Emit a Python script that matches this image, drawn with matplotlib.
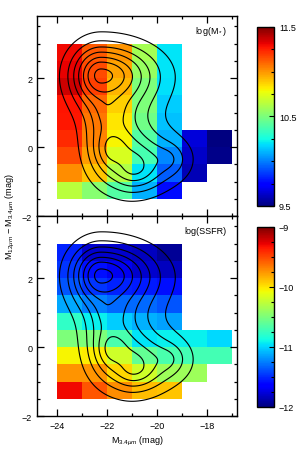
#!/usr/bin/env python3
"""
plot.py: W1 vs W3-W1 colour-magnitude grid, coloured by log(M*) and log(SSFR),
with galaxy density contours on top.
"""

import numpy as np
import matplotlib
matplotlib.use("Agg")
import matplotlib.pyplot as plt
from matplotlib.ticker import MultipleLocator

plt.rcParams['font.family'] = ['Liberation Sans', 'DejaVu Sans']
plt.rcParams['mathtext.fontset'] = 'custom'
plt.rcParams['mathtext.rm'] = 'Liberation Sans'
plt.rcParams['mathtext.it'] = 'Liberation Sans:italic'

# bin edges (M_3.4um and M_12um - M_3.4um)
x_edges = [-24, -23, -22, -21, -20, -19, -18, -17]
y_edges = [-1.5, -1.0, -0.5, 0.0, 0.5, 1.0, 1.5, 2.0, 2.5, 3.0]

nan = np.nan
# median log(M*) per bin, rows listed from top (2.5..3) to bottom (-1.5..-1)
logmstar = [
    [11.30, 11.13, 11.00, 10.60, 10.20, nan, nan],
    [11.32, 11.16, 10.97, 10.57, 10.20, nan, nan],
    [11.36, 11.18, 10.93, 10.50, 10.19, nan, nan],
    [11.28, 11.10, 10.88, 10.50, 10.15, nan, nan],
    [11.27, 11.07, 10.83, 10.47, 10.13, nan, nan],
    [11.23, 11.04, 10.80, 10.40, 10.10, 9.66, 9.50],
    [11.16, 10.99, 10.72, 10.37, 10.02, 9.63, 9.52],
    [11.02, 10.90, 10.63, 10.20, 9.93, 9.60, nan],
    [10.65, 10.53, 10.40, 10.10, 9.77, nan, nan],
]

# median log(SSFR) per bin, same layout
logssfr = [
    [-11.52, -11.79, -11.80, -11.83, -11.94, nan, nan],
    [-11.47, -11.58, -11.70, -11.79, -11.83, nan, nan],
    [-11.37, -11.47, -11.52, -11.55, -11.58, nan, nan],
    [-11.13, -11.25, -11.32, -11.32, -11.37, nan, nan],
    [-10.77, -10.92, -11.02, -11.10, -11.15, nan, nan],
    [-10.50, -10.50, -10.68, -10.95, -10.92, -10.92, -10.99],
    [-10.05, -10.02, -10.20, -10.59, -10.68, -10.71, -10.71],
    [-9.75, -9.75, -9.96, -10.20, -10.38, -10.38, nan],
    [-9.30, -9.54, -9.72, -9.87, -9.90, nan, nan],
]

# galaxy density, as a few lopsided blobs:
# centre x, centre y, scale left/right/down/up, weight
# (top peak, band, lower blob x2, red tail)
blob_x = [-22.25, -21.95, -21.8, -20.9, -19.6]
blob_y = [2.08, 1.05, -0.05, -0.6, -0.35]
blob_sl = [0.42, 0.4, 0.38, 0.45, 0.6]
blob_sr = [0.75, 0.6, 0.45, 0.5, 0.48]
blob_sd = [0.33, 0.45, 0.35, 0.3, 0.3]
blob_su = [0.32, 0.45, 0.35, 0.4, 0.3]
blob_w = [1.25, 0.3, 0.5, 0.5, 0.2]

# points each contour passes through, straight above the top peak
level_x = [-22.3, -22.3, -22.3, -22.3, -22.3, -22.3, -22.3]
level_y = [3.34, 3.08, 2.90, 2.75, 2.60, 2.46, 2.26]


def density(gx, gy):
    z = np.zeros_like(gx, dtype=float)
    for x0, y0, sl, sr, sd, su, w in zip(blob_x, blob_y, blob_sl, blob_sr,
                                         blob_sd, blob_su, blob_w):
        dx = (gx - x0) / np.where(gx < x0, sl, sr)
        dy = (gy - y0) / np.where(gy < y0, sd, su)
        r = np.hypot(dx, dy)
        z += w * np.exp(1.0 - np.sqrt(1.0 + r ** 2))
    return z


def style_axes(ax):
    ax.set_xlim(-24.8, -16.8)
    ax.set_ylim(-2, 3.8)
    ax.xaxis.set_major_locator(MultipleLocator(2))
    ax.xaxis.set_minor_locator(MultipleLocator(1))
    ax.yaxis.set_major_locator(MultipleLocator(2))
    ax.yaxis.set_minor_locator(MultipleLocator(0.5))
    ax.tick_params(which='both', direction='in', top=True, right=True,
                   labelsize=6.5, width=0.9)
    ax.tick_params(which='major', length=5)
    ax.tick_params(which='minor', length=2.5)
    for s in ax.spines.values():
        s.set_linewidth(1.0)


def main():
    fig = plt.figure(figsize=(3.0, 4.56), dpi=100)
    ax1 = fig.add_axes([0.1233, 0.5241, 0.6667, 0.4386])
    ax2 = fig.add_axes([0.1233, 0.0855, 0.6667, 0.4386])
    cax1 = fig.add_axes([0.8567, 0.5461, 0.0567, 0.3925])
    cax2 = fig.add_axes([0.8567, 0.1053, 0.0567, 0.3947])

    gx, gy = np.meshgrid(np.linspace(-25, -16.5, 400), np.linspace(-2.5, 4.0, 400))
    z = density(gx, gy)
    levels = sorted(density(np.array(level_x), np.array(level_y)))

    panels = [
        (ax1, cax1, logmstar, 9.5, 11.5, [9.5, 10.5, 11.5], 'log(M$_*$)'),
        (ax2, cax2, logssfr, -12, -9, [-12, -11, -10, -9], 'log(SSFR)'),
    ]
    for ax, cax, grid, vmin, vmax, cticks, label in panels:
        vals = np.flipud(np.array(grid, dtype=float))
        mesh = ax.pcolormesh(x_edges, y_edges, np.ma.masked_invalid(vals),
                             cmap='jet', vmin=vmin, vmax=vmax, shading='flat')
        ax.contour(gx, gy, z, levels=levels, colors='black', linewidths=0.8)
        style_axes(ax)
        ax.text(0.95, 0.93, label, transform=ax.transAxes, ha='right', va='center',
                fontsize=6.5)

        cb = fig.colorbar(mesh, cax=cax)
        cb.set_ticks(cticks)
        cb.ax.yaxis.set_minor_locator(MultipleLocator(0.25))
        cb.ax.tick_params(which='both', direction='in', labelsize=6.5, width=0.8)
        cb.ax.tick_params(which='major', length=3.5)
        cb.ax.tick_params(which='minor', length=2)
        cb.outline.set_linewidth(1.0)

    ax1.set_xticklabels([])
    ax2.set_xlabel('M$_{3.4\\mu m}$ (mag)', fontsize=6.5, labelpad=3)
    fig.text(0.035, 0.524, 'M$_{12\\mu m}$ $-$ M$_{3.4\\mu m}$ (mag)', rotation=90,
             ha='center', va='center', fontsize=6.5)

    fig.savefig('out.png', dpi=100)
    plt.close(fig)


if __name__ == "__main__":
    main()
